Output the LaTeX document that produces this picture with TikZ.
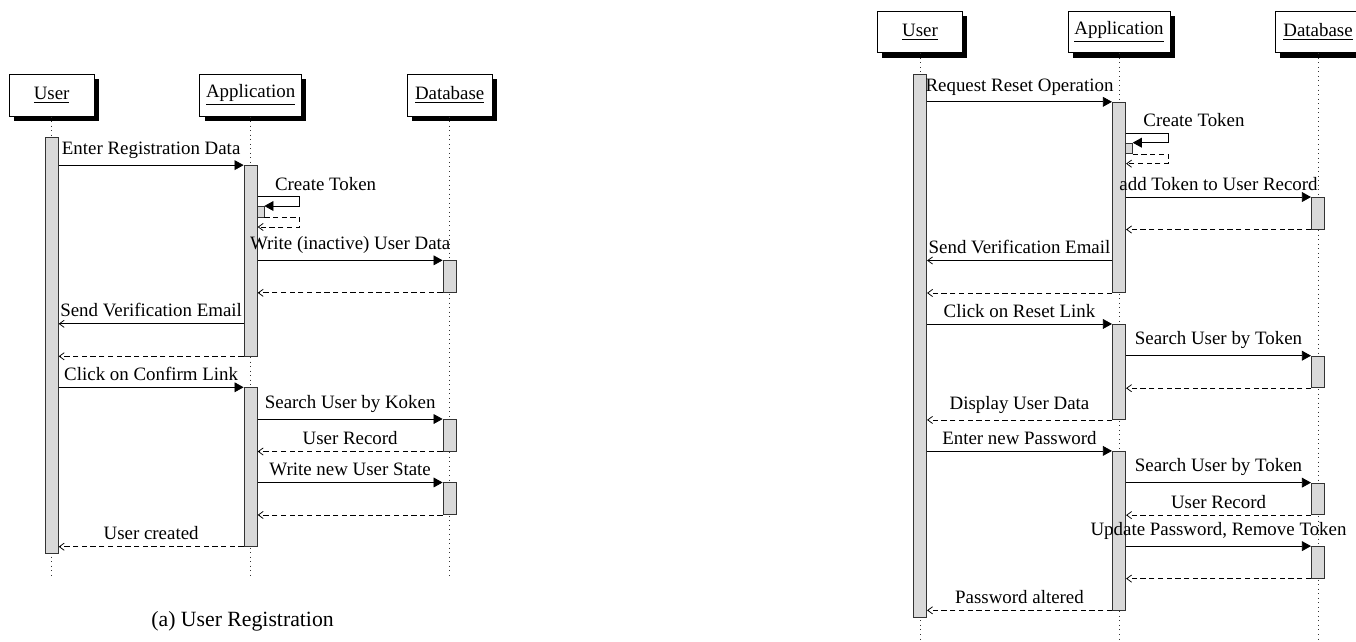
\documentclass[tikz,border=0pt]{standalone}
\usepackage{fontspec}
\setmainfont{Liberation Serif}
\usetikzlibrary{arrows.meta,shadows}

\tikzset{
  thread/.style={draw, fill=white, minimum width=1.58cm, minimum height=0.78cm,
    drop shadow={fill=black, opacity=1, shadow xshift=2.6pt, shadow yshift=-2.6pt}},
  lifeline/.style={dotted, black!80},
  act/.style={draw=black!80, fill=black!15, inner sep=0pt, minimum width=0.248cm, anchor=north},
  call/.style={-{Triangle[length=4.8pt,width=5.2pt]}},
  mess/.style={-{Straight Barb[length=2.6pt,width=3.8pt]}},
  ret/.style={mess, dash pattern=on 2.8pt off 1.8pt},
  lbl/.style={midway, above}
}

\begin{document}
\begin{tikzpicture}
  \useasboundingbox (-0.96,-8.85) rectangle (24.25,3.07);

  % user registration
  \foreach \n/\t/\x in {User/User/0, App/Application/3.7, Db/Database/7.4} {
    \node (reg\n) [thread] at (\x,1.3) {\underline{\t}};
    \draw[lifeline] (reg\n.south) -- (reg\n |- 0,-7.65);
  }
  \node (regUserBar) [act, minimum height=7.73cm] at (0,0.515) {};
  \node (regAppA) [act, minimum height=3.54cm] at (3.7,0) {};
  \node (regAppSelf) [act, minimum width=0.124cm, minimum height=0.2cm] at (3.886,-0.76) {};
  \node (regDbA) [act, minimum height=0.59cm] at (7.4,-1.77) {};
  \node (regAppB) [act, minimum height=2.95cm] at (3.7,-4.13) {};
  \node (regDbB) [act, minimum height=0.59cm] at (7.4,-4.72) {};
  \node (regDbC) [act, minimum height=0.59cm] at (7.4,-5.9) {};

  \draw[call] (regUserBar.east |- regAppA.north) -- (regAppA.north west) node[lbl] (regM1) {Enter Registration Data};
  \draw[call] (regAppA.east |- 0,-0.59) -- ++(0.78,0) |- (regAppSelf.north east);
  \node (regM2) [above right] at (4.03,-0.59) {Create Token};
  \draw[ret] (regAppSelf.south east) -- ++(0.655,0) |- (regAppA.east |- 0,-1.15);
  \draw[call] (regAppA.east |- regDbA.north) -- (regDbA.north west) node[lbl] (regM3) {Write (inactive) User Data};
  \draw[ret] (regDbA.south west) -- (regAppA.east |- regDbA.south);
  \draw[mess] (regAppA.west |- 0,-2.95) -- (regUserBar.east |- 0,-2.95) node[lbl] (regM4) {Send Verification Email};
  \draw[ret] (regAppA.south west) -- (regUserBar.east |- regAppA.south);
  \draw[call] (regUserBar.east |- regAppB.north) -- (regAppB.north west) node[lbl] (regM5) {Click on Confirm Link};
  \draw[call] (regAppB.east |- regDbB.north) -- (regDbB.north west) node[lbl] (regM6) {Search User by Koken};
  \draw[ret] (regDbB.south west) -- (regAppB.east |- regDbB.south) node[lbl] (regM7) {User Record};
  \draw[call] (regAppB.east |- regDbC.north) -- (regDbC.north west) node[lbl] (regM8) {Write new User State};
  \draw[ret] (regDbC.south west) -- (regAppB.east |- regDbC.south);
  \draw[ret] (regAppB.south west) -- (regUserBar.east |- regAppB.south) node[lbl] (regM9) {User created};

  \node (regCaption) at (3.55,-8.49) {\fontsize{11.5}{14}\selectfont (a) User Registration};

  % password reset
  \begin{scope}[shift={(16.144,1.177)}]
    \foreach \n/\t/\x in {User/User/0, App/Application/3.7, Db/Database/7.4} {
      \node (res\n) [thread] at (\x,1.3) {\underline{\t}};
      \draw[lifeline] (res\n.south) -- (res\n |- 0,-10.1);
    }
    \node (resUserBar) [act, minimum height=10.09cm] at (0,0.515) {};
    \node (resAppA) [act, minimum height=3.54cm] at (3.7,0) {};
    \node (resAppSelf) [act, minimum width=0.124cm, minimum height=0.2cm] at (3.886,-0.76) {};
    \node (resDbA) [act, minimum height=0.59cm] at (7.4,-1.77) {};
    \node (resAppB) [act, minimum height=1.77cm] at (3.7,-4.13) {};
    \node (resDbB) [act, minimum height=0.59cm] at (7.4,-4.72) {};
    \node (resAppC) [act, minimum height=2.95cm] at (3.7,-6.49) {};
    \node (resDbC) [act, minimum height=0.59cm] at (7.4,-7.08) {};
    \node (resDbD) [act, minimum height=0.59cm] at (7.4,-8.26) {};

    \draw[call] (resUserBar.east |- resAppA.north) -- (resAppA.north west) node[lbl] (resM1) {Request Reset Operation};
    \draw[call] (resAppA.east |- 0,-0.59) -- ++(0.78,0) |- (resAppSelf.north east);
    \node (resM2) [above right] at (4.03,-0.59) {Create Token};
    \draw[ret] (resAppSelf.south east) -- ++(0.655,0) |- (resAppA.east |- 0,-1.15);
    \draw[call] (resAppA.east |- resDbA.north) -- (resDbA.north west) node[lbl] (resM3) {add Token to User Record};
    \draw[ret] (resDbA.south west) -- (resAppA.east |- resDbA.south);
    \draw[mess] (resAppA.west |- 0,-2.95) -- (resUserBar.east |- 0,-2.95) node[lbl] (resM4) {Send Verification Email};
    \draw[ret] (resAppA.south west) -- (resUserBar.east |- resAppA.south);
    \draw[call] (resUserBar.east |- resAppB.north) -- (resAppB.north west) node[lbl] (resM5) {Click on Reset Link};
    \draw[call] (resAppB.east |- resDbB.north) -- (resDbB.north west) node[lbl] (resM6) {Search User by Token};
    \draw[ret] (resDbB.south west) -- (resAppB.east |- resDbB.south);
    \draw[ret] (resAppB.south west) -- (resUserBar.east |- resAppB.south) node[lbl] (resM7) {Display User Data};
    \draw[call] (resUserBar.east |- resAppC.north) -- (resAppC.north west) node[lbl] (resM8) {Enter new Password};
    \draw[call] (resAppC.east |- resDbC.north) -- (resDbC.north west) node[lbl] (resM9) {Search User by Token};
    \draw[ret] (resDbC.south west) -- (resAppC.east |- resDbC.south) node[lbl] (resM10) {User Record};
    \draw[call] (resAppC.east |- resDbD.north) -- (resDbD.north west) node[lbl] (resM11) {Update Password, Remove Token};
    \draw[ret] (resDbD.south west) -- (resAppC.east |- resDbD.south);
    \draw[ret] (resAppC.south west) -- (resUserBar.east |- resAppC.south) node[lbl] (resM12) {Password altered};
  \end{scope}
\end{tikzpicture}
\end{document}
